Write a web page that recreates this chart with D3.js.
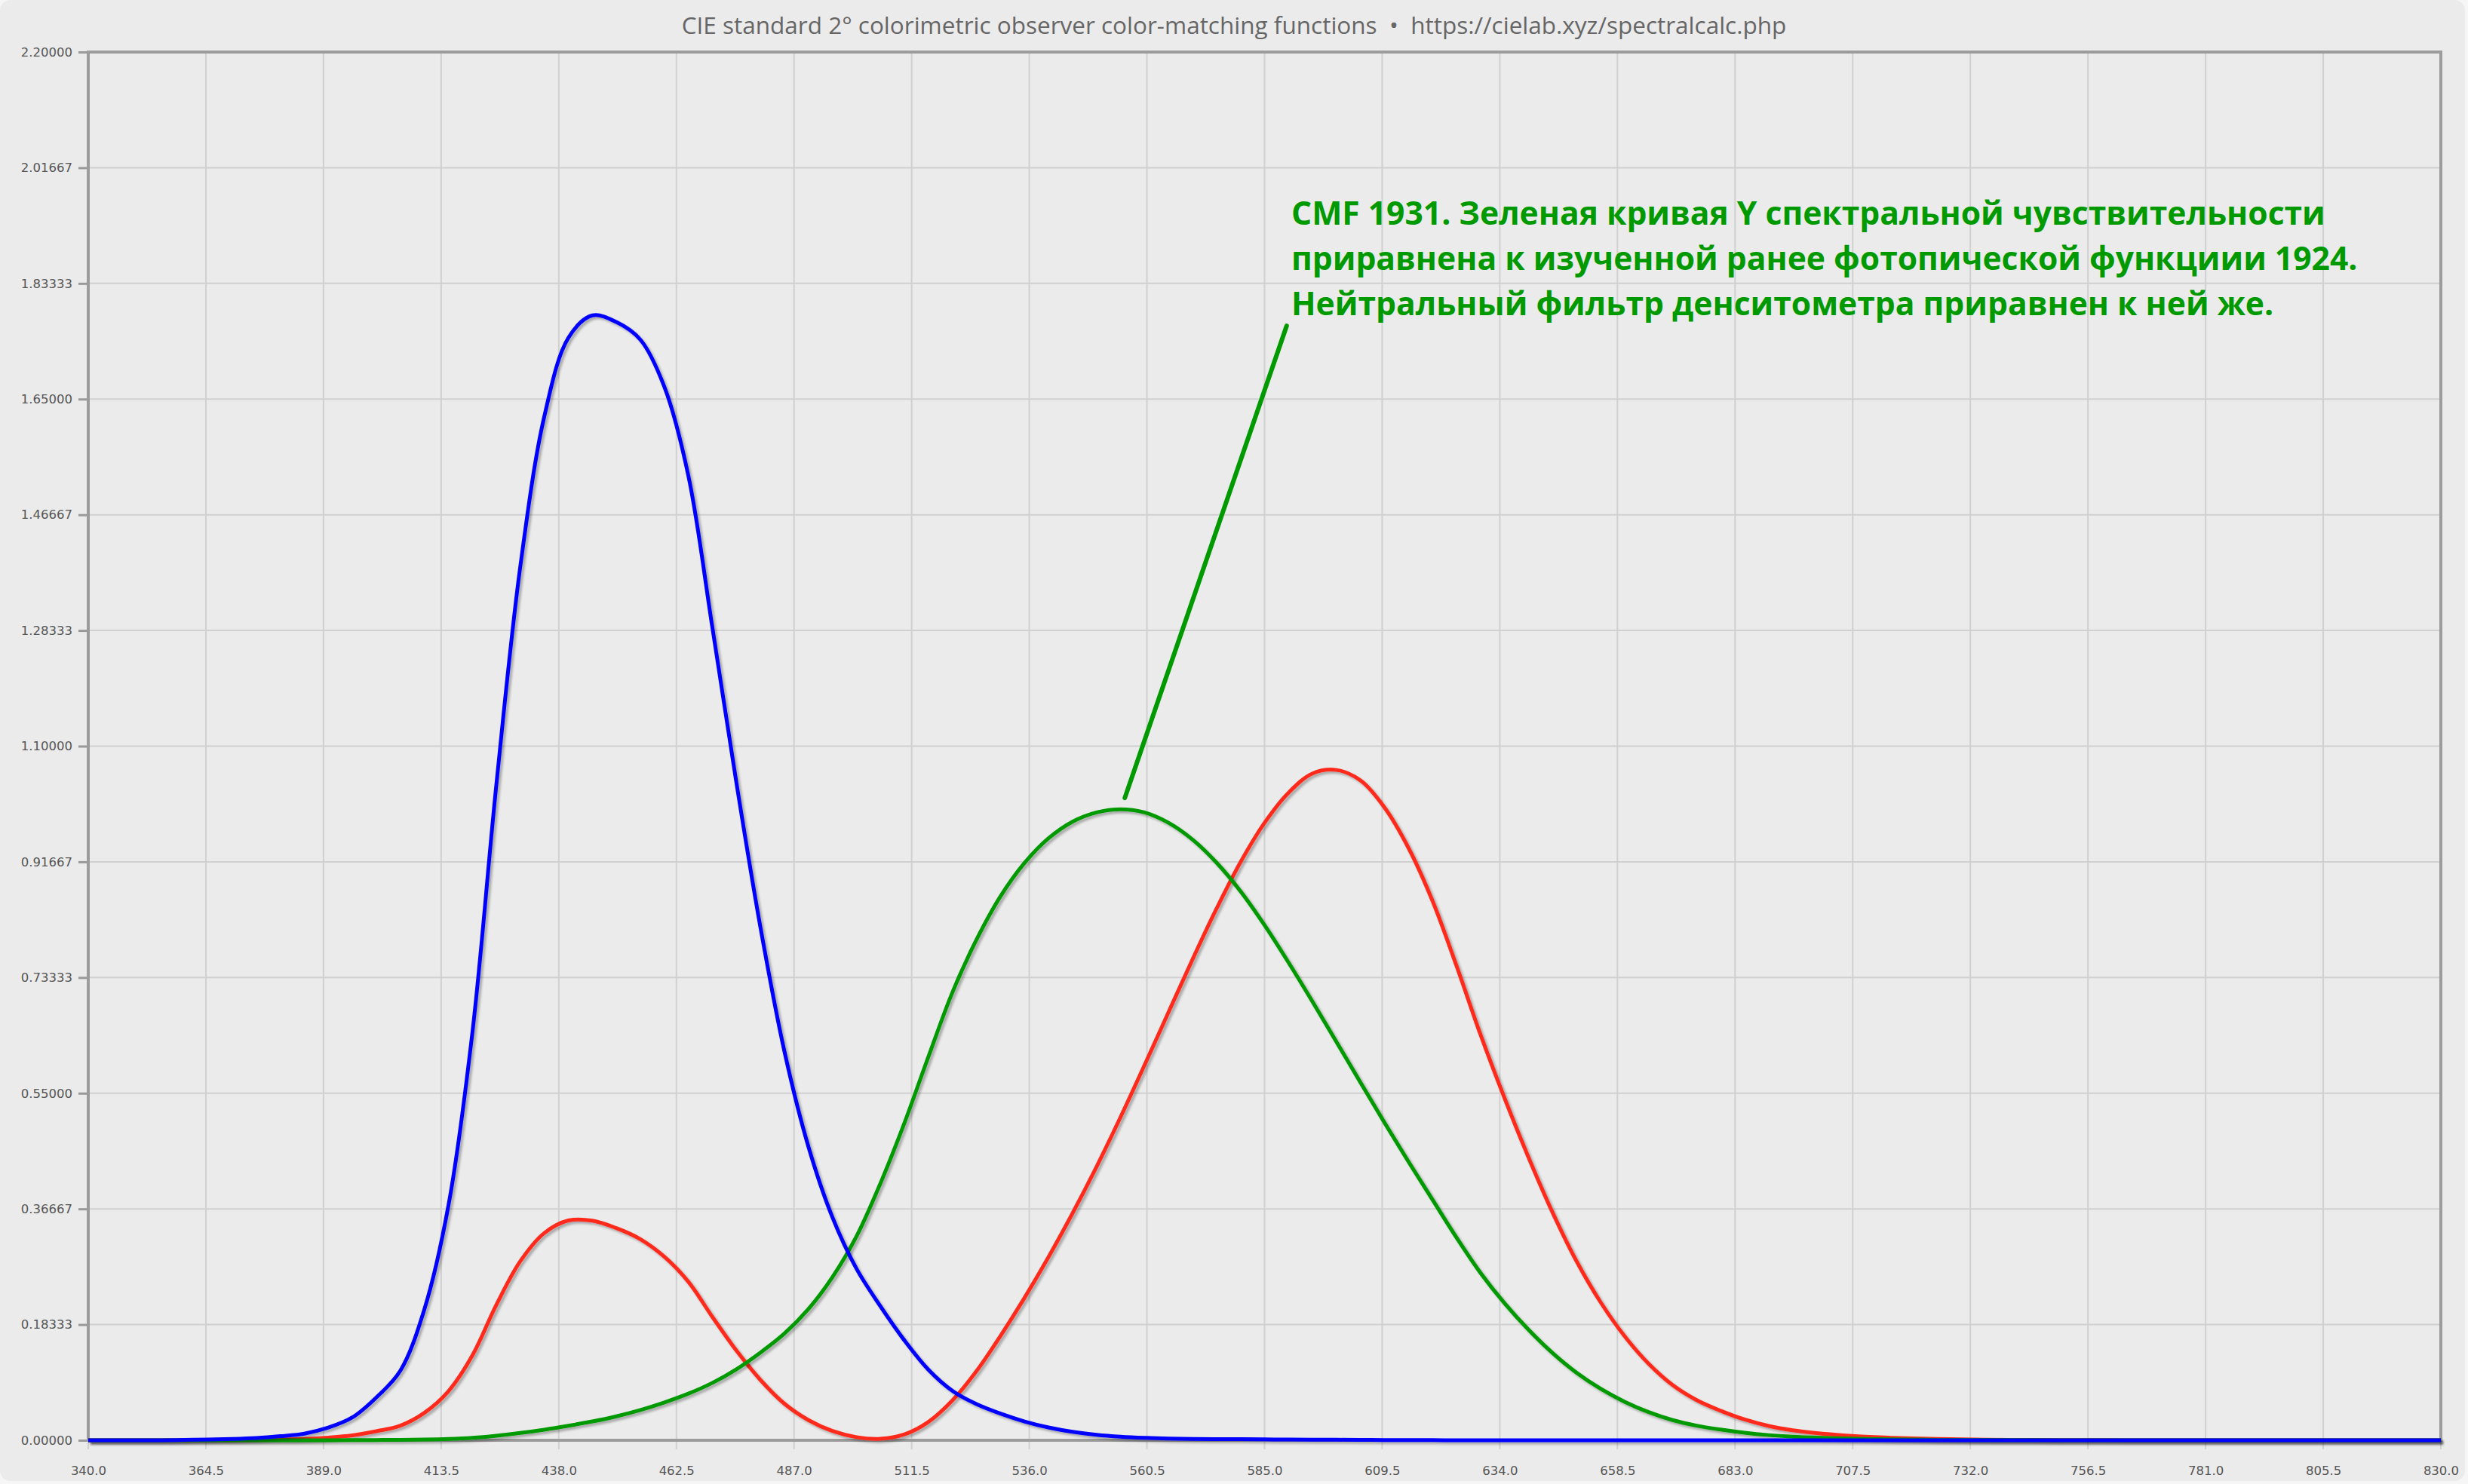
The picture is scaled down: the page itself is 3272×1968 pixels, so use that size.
<!DOCTYPE html>
<html><head><meta charset="utf-8">
<script src="https://cdn.jsdelivr.net/npm/d3@7"></script>
<style>html,body{margin:0;padding:0;background:#f6f6f6;overflow:hidden}</style>
</head><body>
<svg id="chart" width="3272" height="1968"></svg>
<script>
const wavelengths = [340,345,350,355,360,365,370,375,380,385,390,395,400,405,410,415,420,425,430,435,440,445,450,455,460,465,470,475,480,485,490,495,500,505,510,515,520,525,530,535,540,545,550,555,560,565,570,575,580,585,590,595,600,605,610,615,620,625,630,635,640,645,650,655,660,665,670,675,680,685,690,695,700,705,710,715,720,725,730,735,740,745,750,755,760,765,770,775,780,785,790,795,800,805,810,815,820,825,830];
const xBar = [0,0,0,0,0.000130,0.000232,0.000415,0.000742,0.001368,0.002236,0.004243,0.007650,0.014310,0.023190,0.043510,0.077630,0.134380,0.214770,0.283900,0.328500,0.348280,0.348060,0.336200,0.318700,0.290800,0.251100,0.195360,0.142100,0.095640,0.057950,0.032010,0.014700,0.004900,0.002400,0.009300,0.029100,0.063270,0.109600,0.165500,0.225750,0.290400,0.359700,0.433450,0.512050,0.594500,0.678400,0.762100,0.842500,0.916300,0.978600,1.026300,1.056700,1.062200,1.045600,1.002600,0.938400,0.854450,0.751400,0.642400,0.541900,0.447900,0.360800,0.283500,0.218700,0.164900,0.121200,0.087400,0.063600,0.046770,0.032900,0.022700,0.015840,0.011359,0.008111,0.005790,0.004109,0.002899,0.002049,0.001440,0.001000,0.000690,0.000476,0.000332,0.000235,0.000166,0.000117,0.000083,0.000059,0.000042,0.000029,0.000021,0.000015,0.000010,0.000007,0.000005,0.000004,0.000003,0.000002,0.000001];
const yBar = [0,0,0,0,0.000004,0.000007,0.000012,0.000022,0.000039,0.000064,0.000120,0.000217,0.000396,0.000640,0.001210,0.002180,0.004000,0.007300,0.011600,0.016840,0.023000,0.029800,0.038000,0.048000,0.060000,0.073900,0.090980,0.112600,0.139020,0.169300,0.208020,0.258600,0.323000,0.407300,0.503000,0.608200,0.710000,0.793200,0.862000,0.914850,0.954000,0.980300,0.994950,1.000000,0.995000,0.978600,0.952000,0.915400,0.870000,0.816300,0.757000,0.694900,0.631000,0.566800,0.503000,0.441200,0.381000,0.321000,0.265000,0.217000,0.175000,0.138200,0.107000,0.081600,0.061000,0.044580,0.032000,0.023200,0.017000,0.011920,0.008210,0.005723,0.004102,0.002929,0.002091,0.001484,0.001047,0.000740,0.000520,0.000361,0.000249,0.000172,0.000120,0.000085,0.000060,0.000042,0.000030,0.000021,0.000015,0.000011,0.000007,0.000005,0.000004,0.000003,0.000002,0.000001,0.000001,0.000001,0];
const zBar = [0,0,0,0,0.000606,0.001086,0.001946,0.003486,0.006450,0.010550,0.020050,0.036210,0.067850,0.110200,0.207400,0.371300,0.645600,1.039050,1.385600,1.622960,1.747060,1.782600,1.772110,1.744100,1.669200,1.528100,1.287640,1.041900,0.812950,0.616200,0.465180,0.353300,0.272000,0.212300,0.158200,0.111700,0.078250,0.057250,0.042160,0.029840,0.020300,0.013400,0.008750,0.005750,0.003900,0.002750,0.002100,0.001800,0.001650,0.001400,0.001100,0.001000,0.000800,0.000600,0.000340,0.000240,0.000190,0.000100,0.000050,0.000030,0.000020,0.000010,0,0,0,0,0,0,0,0,0,0,0,0,0,0,0,0,0,0,0,0,0,0,0,0,0,0,0,0,0,0,0,0,0,0,0,0,0];
const xTickLabels = ["340.0","364.5","389.0","413.5","438.0","462.5","487.0","511.5","536.0","560.5","585.0","609.5","634.0","658.5","683.0","707.5","732.0","756.5","781.0","805.5","830.0"];
const yTickValues = [0,0.18333,0.36667,0.55,0.73333,0.91667,1.1,1.28333,1.46667,1.65,1.83333,2.01667,2.2];
const seriesNames = ["x̄ (red)","ȳ (green)","z̄ (blue)"];
const titleText = "CIE standard 2° colorimetric observer color-matching functions  •  https://cielab.xyz/spectralcalc.php";
const noteLines = ["CMF 1931. Зеленая кривая Y спектральной чувствительности","приравнена к изученной ранее фотопической функциии 1924.","Нейтральный фильтр денситометра приравнен к ней же."];

const W = 3272, H = 1968;
const L = 117, R = 3236, T = 69, B = 1910;
const svg = d3.select("#chart");
const defs = svg.append("defs");
const f = defs.append("filter").attr("id","sh").attr("x","-5%").attr("y","-5%").attr("width","110%").attr("height","110%");
f.append("feDropShadow").attr("dx",3).attr("dy",3).attr("stdDeviation",1.6).attr("flood-color","#000").attr("flood-opacity",0.28);

svg.append("rect").attr("x",0).attr("y",0).attr("width",W-4).attr("height",H-4).attr("rx",14).attr("fill","#ebebeb");

const x = d3.scaleLinear().domain([340,830]).range([L,R]);
const y = d3.scaleLinear().domain([0,2.2]).range([B,T]);

svg.append("text").attr("x",W/2).attr("y",45).attr("text-anchor","middle")
  .attr("font-family","'Open Sans', sans-serif").attr("font-size",31.5).attr("fill","#666")
  .attr("xml:space","preserve").text(titleText);

// grid
const xTickVals = xTickLabels.map(Number);
svg.append("g").selectAll("line").data(xTickVals).join("line")
  .attr("x1",d=>x(d)).attr("x2",d=>x(d)).attr("y1",T).attr("y2",B+12)
  .attr("stroke","#d0d0d0").attr("stroke-width",2);
svg.append("g").selectAll("line").data(yTickValues).join("line")
  .attr("x1",L).attr("x2",R).attr("y1",d=>y(d)).attr("y2",d=>y(d))
  .attr("stroke","#d0d0d0").attr("stroke-width",2);

// axes
const yAxis = d3.axisLeft(y).tickValues(yTickValues).tickFormat(d3.format(".5f")).tickSize(13).tickPadding(8);
const ya = svg.append("g").attr("transform",`translate(${L},0)`).call(yAxis);
ya.select(".domain").remove();
ya.selectAll(".tick line").attr("stroke","#999").attr("stroke-width",3);
ya.selectAll(".tick text").attr("font-family","'DejaVu Sans', sans-serif").attr("font-size",16.5).attr("fill","#555");

const xAxis = d3.axisBottom(x).tickValues(xTickVals).tickFormat((d,i)=>xTickLabels[i]).tickSize(0).tickPadding(34);
const xa = svg.append("g").attr("transform",`translate(0,${B})`).call(xAxis);
xa.select(".domain").remove();
xa.selectAll(".tick text").attr("font-family","'DejaVu Sans', sans-serif").attr("font-size",16.5).attr("fill","#555");

// frame
svg.append("rect").attr("x",L).attr("y",T).attr("width",R-L).attr("height",B-T)
  .attr("fill","none").attr("stroke","#9c9c9c").attr("stroke-width",4);

// curves
const line = d3.line().x(d=>x(d[0])).y(d=>y(d[1])).curve(d3.curveCatmullRom.alpha(0.5));
const series = [
  {name:seriesNames[0], vals:xBar, color:"#ff2a1a"},
  {name:seriesNames[1], vals:yBar, color:"#009a00"},
  {name:seriesNames[2], vals:zBar, color:"#0000ff"}
];
svg.append("g").selectAll("path").data(series).join("path")
  .attr("d",s=>line(wavelengths.map((w,i)=>[w,s.vals[i]])))
  .attr("fill","none").attr("stroke",s=>s.color).attr("stroke-width",5)
  .attr("stroke-linejoin","round").attr("filter","url(#sh)");

// annotation
svg.append("line").attr("x1",x(589.6)).attr("y1",y(1.766)).attr("x2",x(555.9)).attr("y2",y(1.018))
  .attr("stroke","#009a00").attr("stroke-width",6).attr("stroke-linecap","round");
svg.append("g").selectAll("text").data(noteLines).join("text")
  .attr("x",1712).attr("y",(d,i)=>298+i*60)
  .attr("font-family","'Open Sans', sans-serif").attr("font-weight",700).attr("font-size",42.6)
  .attr("fill","#009a00").text(d=>d);
</script>
</body></html>
